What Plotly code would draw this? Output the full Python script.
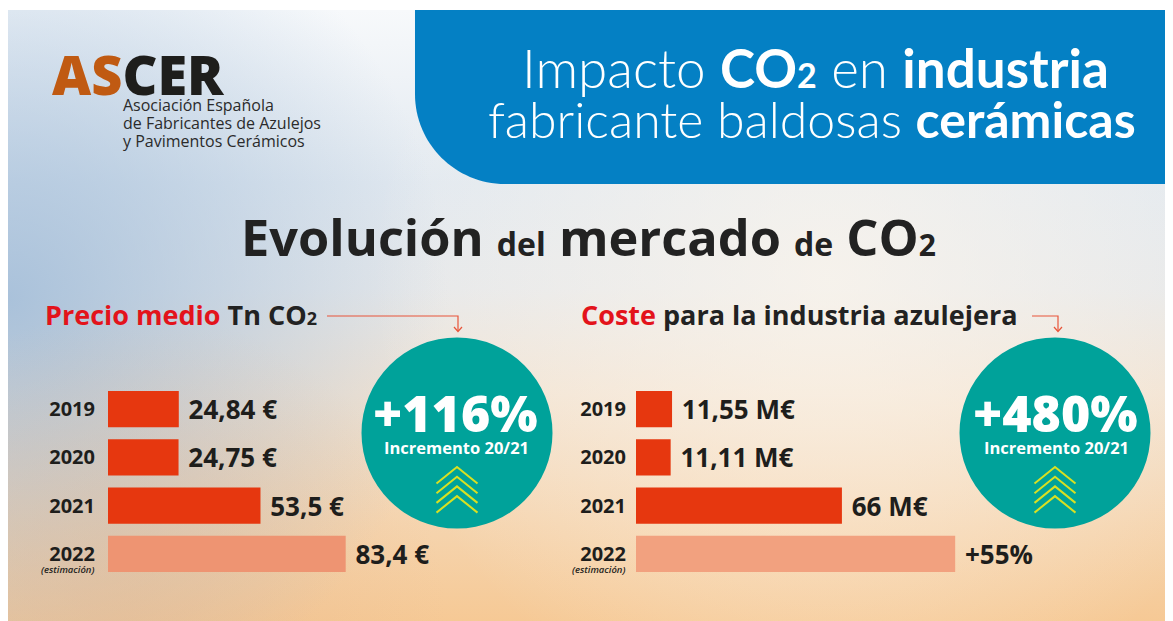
import base64
import plotly.graph_objects as go

W, H = 1173, 621
OFF = 8  # page margin in which the figure is shown

# ---------------- data ----------------
years = ["2019", "2020", "2021", "2022"]
price_values = [24.84, 24.75, 53.5, 83.4]          # € / Tn CO2
price_labels = ["24,84 €", "24,75 €", "53,5 €", "83,4 €"]
cost_values = [11.55, 11.11, 66.0, 102.3]          # M€ (2022 = 66 M€ +55%)
cost_labels = ["11,55 M€", "11,11 M€", "66 M€", "+55%"]
increase_labels = ["+116%", "+480%"]
increase_caption = "Incremento 20/21"
estimate_note = "(estimación)"
logo_lines = ["Asociación Española", "de Fabricantes de Azulejos", "y Pavimentos Cerámicos"]

RED = "#E6370F"
price_colors = [RED, RED, RED, "#EE9472"]
cost_colors = [RED, RED, RED, "#F2A17F"]
TEAL = "#00A29A"
DARK = "#1E1E1C"
FONT = "Open Sans"


def px(x):
    return (x - OFF) / W


def py(y):
    return 1 - (y - OFF) / H


def P(x, y):
    return f"{px(x):.5f},{py(y):.5f}"


# ---------------- background (gradient svg) ----------------
svg = """<svg xmlns="http://www.w3.org/2000/svg" width="1173" height="621" viewBox="0 0 1173 621" preserveAspectRatio="none">
<defs>
<linearGradient id="v" x1="0" y1="0" x2="0" y2="1">
<stop offset="0" stop-color="#f7f9fb"/>
<stop offset="0.28" stop-color="#e2e9f0"/>
<stop offset="0.45" stop-color="#e6e8ea"/>
<stop offset="0.62" stop-color="#f2e3d2"/>
<stop offset="0.82" stop-color="#f5d5b0"/>
<stop offset="1" stop-color="#f6c893"/>
</linearGradient>
<radialGradient id="b" gradientUnits="userSpaceOnUse" cx="0" cy="290" r="440">
<stop offset="0" stop-color="#9fbbd8" stop-opacity="0.85"/>
<stop offset="1" stop-color="#9fbbd8" stop-opacity="0"/>
</radialGradient>
<radialGradient id="w" gradientUnits="userSpaceOnUse" cx="820" cy="270" r="460">
<stop offset="0" stop-color="#fdf6ec" stop-opacity="0.7"/>
<stop offset="1" stop-color="#fdf6ec" stop-opacity="0"/>
</radialGradient>
<radialGradient id="o" gradientUnits="userSpaceOnUse" cx="120" cy="621" r="320">
<stop offset="0" stop-color="#e4b892" stop-opacity="0.45"/>
<stop offset="1" stop-color="#e4b892" stop-opacity="0"/>
</radialGradient>
</defs>
<rect x="0" y="0" width="1173" height="621" fill="url(#v)"/>
<rect x="0" y="0" width="1173" height="621" fill="url(#b)"/>
<rect x="0" y="0" width="1173" height="621" fill="url(#w)"/>
<rect x="0" y="0" width="1173" height="621" fill="url(#o)"/>
</svg>"""
bg_src = "data:image/svg+xml;base64," + base64.b64encode(svg.encode("utf-8")).decode("ascii")

# ---------------- bars ----------------
VAL_FONT = dict(family=FONT, size=26, color=DARK, weight=700)
fig = go.Figure()
fig.add_trace(go.Bar(
    y=years, x=price_values, orientation="h",
    marker=dict(color=price_colors, line=dict(width=0)),
    text=price_labels, texttemplate="\u00a0%{text}", textposition="outside",
    outsidetextfont=VAL_FONT,
    constraintext="none", cliponaxis=False, hoverinfo="skip",
    xaxis="x", yaxis="y", showlegend=False,
))
fig.add_trace(go.Bar(
    y=years, x=cost_values, orientation="h",
    marker=dict(color=cost_colors, line=dict(width=0)),
    text=cost_labels, texttemplate="\u00a0%{text}", textposition="outside",
    outsidetextfont=VAL_FONT,
    constraintext="none", cliponaxis=False, hoverinfo="skip",
    xaxis="x2", yaxis="y2", showlegend=False,
))

ydom = [py(578), py(385)]
yax = dict(domain=ydom, range=[3.5, -0.5], type="category",
           categoryorder="array", categoryarray=years,
           showgrid=False, zeroline=False, showline=False, ticks="",
           tickfont=dict(family=FONT, size=20, color=DARK, weight=700))
xax = dict(showgrid=False, zeroline=False, showline=False, showticklabels=False, ticks="")

fig.update_layout(
    width=W, height=H,
    margin=dict(l=0, r=0, t=0, b=0),
    paper_bgcolor="white", plot_bgcolor="rgba(0,0,0,0)",
    bargap=0.25,
    xaxis=dict(**xax, domain=[px(108), px(460)], range=[0, 352 / 2.85], anchor="y"),
    yaxis=dict(**yax, anchor="x", ticklabelstandoff=12),
    xaxis2=dict(**xax, domain=[px(636), px(1000)], range=[0, 364 / 3.12], anchor="y2"),
    yaxis2=dict(**yax, anchor="x2", ticklabelstandoff=9),
    font=dict(family=FONT),
)

fig.add_layout_image(dict(
    source=bg_src, xref="paper", yref="paper",
    x=0, y=py(10), sizex=1, sizey=py(10),
    xanchor="left", yanchor="top", sizing="stretch", layer="below",
))

shapes = []
# blue header with rounded bottom-left corner
header_path = (f"M{P(415,10)} L{P(1200,10)} L{P(1200,184)} L{P(505,184)} "
               f"C{P(455.3,184)} {P(415,143.7)} {P(415,94)} Z")
shapes.append(dict(type="path", path=header_path, xref="paper", yref="paper",
                   fillcolor="#0480C4", line=dict(width=0), layer="below"))

# teal circles + chevrons
for cx in (457, 1055):
    cy, r = 433, 95.5
    shapes.append(dict(type="circle", xref="paper", yref="paper",
                       x0=px(cx - r), x1=px(cx + r), y0=py(cy + r), y1=py(cy - r),
                       fillcolor=TEAL, line=dict(width=0), layer="above"))
    for ay in (467, 476.7, 486.4, 496.1):
        shapes.append(dict(type="path", xref="paper", yref="paper",
                           path=f"M{P(cx-20.5, ay+16.5)} L{P(cx, ay)} L{P(cx+20.5, ay+16.5)}",
                           line=dict(color="#D8E022", width=2), layer="above"))

# thin red arrows from subtitles
ARROW = "#E8553A"
for x0, x1 in ((327, 458), (1032, 1058)):
    shapes.append(dict(type="path", xref="paper", yref="paper",
                       path=f"M{P(x0,316)} L{P(x1,316)} L{P(x1,331)}",
                       line=dict(color=ARROW, width=1.2)))
    shapes.append(dict(type="path", xref="paper", yref="paper",
                       path=f"M{P(x1-4,327)} L{P(x1,331.5)} L{P(x1+4,327)}",
                       line=dict(color=ARROW, width=1.2)))
fig.update_layout(shapes=shapes)

ann = []


def A(x, y, text, size, color=DARK, weight=400, xanchor="center", yanchor="middle",
      family=FONT, align="center", **kw):
    ann.append(dict(x=px(x), y=py(y), xref="paper", yref="paper", text=text,
                    showarrow=False, xanchor=xanchor, yanchor=yanchor, align=align,
                    font=dict(family=family, size=size, color=color, weight=weight), **kw))


# logo
A(50, 73.5, "<span style='color:#C05A12'>AS</span>CER", 54, color=DARK, weight=800,
  xanchor="left")
for yy, line in zip((105, 123, 140.5), logo_lines):
    A(121, yy, line, 16, color="#2B2B2B", xanchor="left")

# header title
A(815, 68, "Impacto <b>CO<span style='font-size:34px'>2</span></b> en <b>industria</b>",
  53, color="white", weight=300, family="Lato")
A(811.5, 119, "fabricante baldosas <b>cerámicas</b>", 50, color="white", weight=300,
  family="Lato")

# main heading
A(588, 237, "Evolución <span style='font-size:32px'>del</span> mercado "
            "<span style='font-size:32px'>de</span> CO<span style='font-size:30px'>2</span>",
  50.5, color="#222222", weight=700)

# subtitles
A(43, 314, "<span style='color:#E3131B'>Precio medio</span> Tn CO"
           "<span style='font-size:18px'>2</span>", 27, color="#222222", weight=700,
  xanchor="left")
A(579, 314, "<span style='color:#E3131B'>Coste</span> para la industria azulejera",
  27, color="#222222", weight=700, xanchor="left")

# circle texts
for cx, lab in zip((455, 1055), increase_labels):
    A(cx, 412.5, lab, 50, color="white", weight=800)
    A(cx + 1, 447.5, increase_caption, 16.5, color="white", weight=700)

# "(estimación)" note under the 2022 tick labels
A(96, 569, f"<i>{estimate_note}</i>", 9.5, weight=600, xanchor="right")
A(627, 569, f"<i>{estimate_note}</i>", 9.5, weight=600, xanchor="right")

fig.update_layout(annotations=ann)

fig.write_html("out.html")
